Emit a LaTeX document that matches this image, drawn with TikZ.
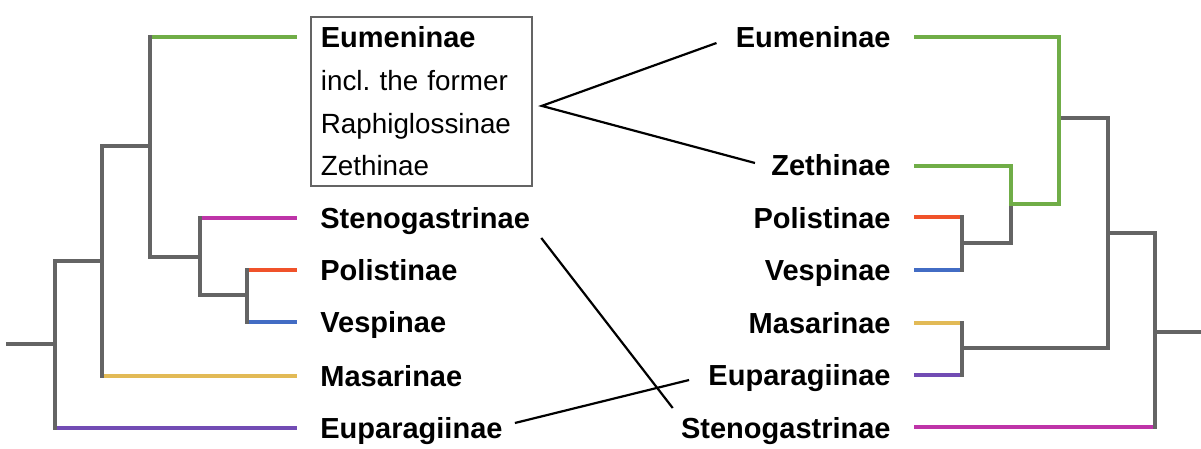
\documentclass[tikz,border=0pt]{standalone}
\usepackage{fontspec}
\setmainfont{Liberation Sans}
\usetikzlibrary{calc}

\definecolor{treegrey}{RGB}{100,100,100}
\definecolor{eumgreen}{RGB}{112,173,71}
\definecolor{stemagenta}{RGB}{190,52,168}
\definecolor{polred}{RGB}{240,82,42}
\definecolor{vesblue}{RGB}{66,108,196}
\definecolor{masyellow}{RGB}{226,186,86}
\definecolor{euppurple}{RGB}{114,76,180}

\tikzset{
  branch/.style={draw=treegrey, line width=2pt, line cap=rect},
  leaf/.style={line width=1.7pt},
  greenbranch/.style={draw=eumgreen, line width=1.7pt, line cap=rect},
  taxon/.style={font={\fontsize{14.5pt}{17pt}\selectfont\bfseries}, inner sep=0pt},
  link/.style={draw=black, line width=1.1pt},
  cladebox/.style={draw=treegrey, line width=0.9pt, align=left,
    font={\fontsize{13.9pt}{21.3pt}\selectfont\frenchspacing},
    minimum width=110.5pt, minimum height=84.5pt, text width=100.5pt, inner xsep=5pt}
}

\begin{document}
\begin{tikzpicture}[x=0.5pt, y=-0.5pt]
  \useasboundingbox (0,0) rectangle (1201,449);

  % left tree: leaves
  \draw[leaf, eumgreen] (150,37) -- (297,37);
  \draw[leaf, stemagenta] (200,218) -- (297,218);
  \draw[leaf, polred] (247,270) -- (297,270);
  \draw[leaf, vesblue] (247,322) -- (297,322);
  \draw[leaf, masyellow] (102,376) -- (297,376);
  \draw[leaf, euppurple] (55,428) -- (297,428);
  % left tree: branches
  \draw[branch] (8,344) -- (55,344);
  \draw[branch] (55,261) -- (55,428);
  \draw[branch] (55,261) -- (102,261);
  \draw[branch] (102,146) -- (102,376);
  \draw[branch] (102,146) -- (150,146);
  \draw[branch] (150,37) -- (150,257);
  \draw[branch] (150,257) -- (200,257);
  \draw[branch] (200,218) -- (200,295);
  \draw[branch] (200,295) -- (247,295);
  \draw[branch] (247,270) -- (247,322);

  % left labels
  \node[cladebox, anchor=north west] (eumbox) at (310,16)
    {{\fontsize{14.5pt}{21.3pt}\selectfont\bfseries Eumeninae}\\incl. the former\\Raphiglossinae\\Zethinae};
  \node[taxon, anchor=base west] (lSte) at (320,228.5) {Stenogastrinae};
  \node[taxon, anchor=base west] (lPol) at (320,280.5) {Polistinae};
  \node[taxon, anchor=base west] (lVes) at (320,332.5) {Vespinae};
  \node[taxon, anchor=base west] (lMas) at (320,386.5) {Masarinae};
  \node[taxon, anchor=base west] (lEup) at (320,438.5) {Euparagiinae};

  % right labels
  \node[taxon, anchor=base east] (rEum) at (891,47.5) {Eumeninae};
  \node[taxon, anchor=base east] (rZet) at (891,175.5) {Zethinae};
  \node[taxon, anchor=base east] (rPol) at (891,228.5) {Polistinae};
  \node[taxon, anchor=base east] (rVes) at (891,280.5) {Vespinae};
  \node[taxon, anchor=base east] (rMas) at (891,333.5) {Masarinae};
  \node[taxon, anchor=base east] (rEup) at (891,385.5) {Euparagiinae};
  \node[taxon, anchor=base east] (rSte) at (891,438.5) {Stenogastrinae};

  % right tree: leaves
  \draw[leaf, eumgreen] (914,37) -- (1059,37);
  \draw[leaf, eumgreen] (914,166) -- (1011,166);
  \draw[leaf, polred] (914,217) -- (962,217);
  \draw[leaf, vesblue] (914,270) -- (962,270);
  \draw[leaf, masyellow] (914,323) -- (962,323);
  \draw[leaf, euppurple] (914,375) -- (962,375);
  \draw[leaf, stemagenta] (914,427) -- (1155,427);
  % right tree: branches
  \draw[branch] (1011,204) -- (1011,243);
  \draw[branch] (962,217) -- (962,270);
  \draw[branch] (962,243) -- (1011,243);
  \draw[branch] (962,323) -- (962,375);
  \draw[branch] (962,348) -- (1108,348);
  \draw[branch] (1059,118) -- (1108,118);
  \draw[branch] (1108,118) -- (1108,348);
  \draw[branch] (1108,233) -- (1155,233);
  \draw[branch] (1155,233) -- (1155,427);
  \draw[branch] (1155,332) -- (1201,332);
  \draw[greenbranch] (1059,37) -- (1059,204);
  \draw[greenbranch] (1011,166) -- (1011,204) -- (1059,204);

  % links between the two trees
  \coordinate (apex) at ($(eumbox.east)+(9,4.5)$);
  \draw[link] ($(rEum.base west)+(-19,-4.5)$) -- (apex)
    -- ($(rZet.base west)+(-16,-12.5)$);
  \draw[link] ($(lSte.base east)+(11,9.5)$) -- ($(rSte.base west)+(-8,-30.5)$);
  \draw[link] ($(lEup.base east)+(12,-15.5)$) -- ($(rEup.base west)+(-19,-5.5)$);
\end{tikzpicture}
\end{document}
